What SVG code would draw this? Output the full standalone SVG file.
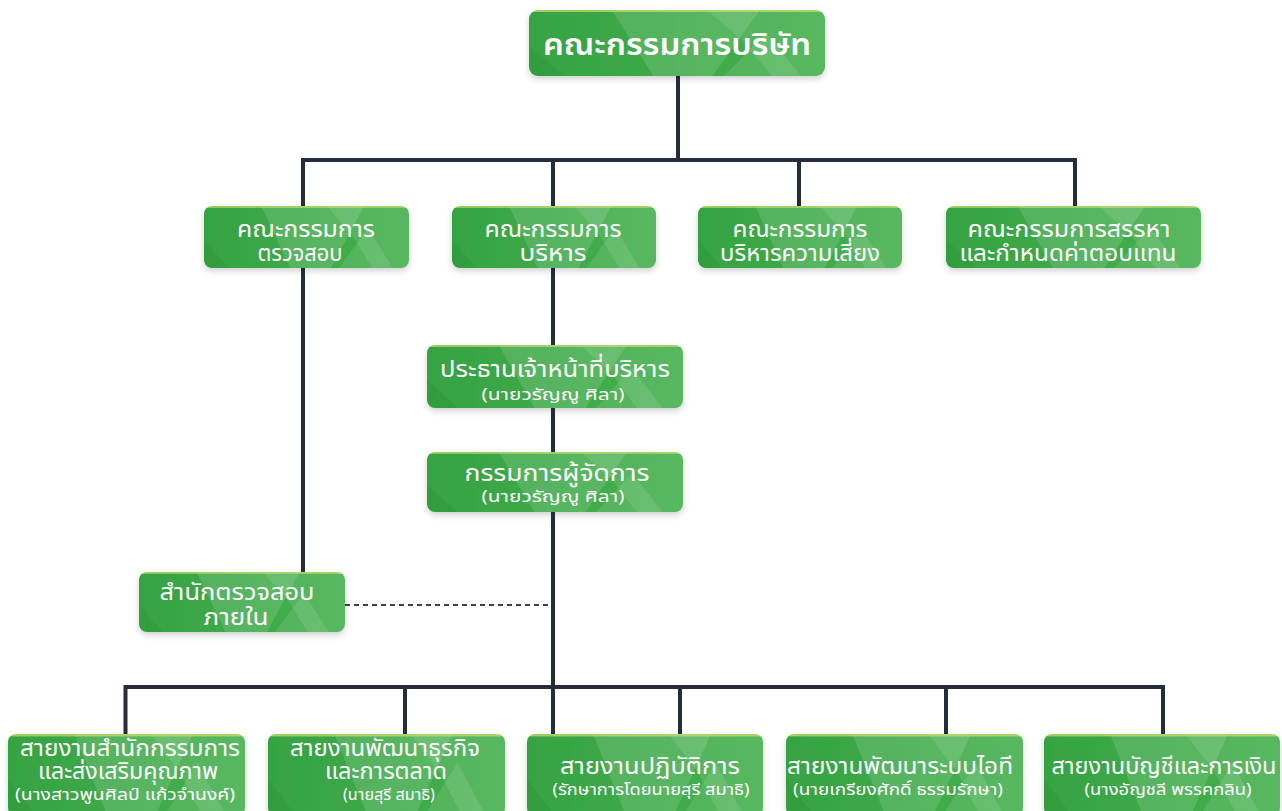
<svg xmlns="http://www.w3.org/2000/svg" width="1282" height="811" viewBox="0 0 1282 811">
<defs>
<linearGradient id="g" x1="0" y1="0" x2="1" y2="0">
<stop offset="0" stop-color="#36a343"/>
<stop offset="1" stop-color="#45b04e"/>
</linearGradient>
<pattern id="nodeFill" patternUnits="objectBoundingBox" patternContentUnits="objectBoundingBox" width="1" height="1">
<rect x="0" y="0" width="1" height="1" fill="url(#g)"/>
<polygon points="0.28,0 0.78,0 0.62,1 0.42,1" fill="#ffffff" fill-opacity="0.13"/>
<polygon points="0.6,0 1,0 1,1 0.82,1 0.72,0.45" fill="#ffffff" fill-opacity="0.1"/>
<polygon points="0.66,1 0.8,0.35 0.92,1" fill="#ffffff" fill-opacity="0.1"/>
<polygon points="0,0.55 0.12,1 0,1" fill="#1e8a30" fill-opacity="0.25"/>
<rect x="0" y="0" width="1" height="0.03" fill="#c9e36b" fill-opacity="0.7"/>
</pattern>
<filter id="sh" x="-10%" y="-20%" width="120%" height="150%">
<feDropShadow dx="0" dy="3" stdDeviation="3" flood-color="#000" flood-opacity="0.18"/>
</filter>
</defs>
<style>
.n{fill:url(#nodeFill);filter:url(#sh)}
.t{font-family:"Noto Sans Thai","Noto Sans","DejaVu Sans",sans-serif;fill:#fff;text-anchor:middle}
.big{font-size:31px;font-weight:600}
.m{font-size:23px}
.s{font-size:16px}
.ln{stroke:#262d3a;stroke-width:4;fill:none}
.dash{stroke:#3a4150;stroke-width:2;stroke-dasharray:5 4;fill:none}
</style>
<rect width="1282" height="811" fill="#ffffff"/>
<g id="connectors">
<path class="ln" d="M678,76 V160 M303,160 H1075 M303,158 V268 M553,158 V345 M799,158 V206 M1075,158 V206"/>
<path class="ln" d="M303,268 V572"/>
<path class="ln" d="M553,408 V452 M553,512 V734"/>
<path class="ln" d="M125.5,687 H1163 M125.5,685 V734 M405,687 V734 M680,687 V734 M946,687 V734 M1163,685 V734"/>
<path class="dash" d="M345,605 H551"/>
</g>
<g id="board"><rect class="n" x="529" y="10" width="296" height="66" rx="9"/><text class="t big" x="677" y="55" textLength="268" lengthAdjust="spacingAndGlyphs">คณะกรรมการบริษัท</text></g>
<g id="audit-committee"><rect class="n" x="204" y="206" width="205" height="62" rx="8"/><text class="t m" x="306" y="237" textLength="138" lengthAdjust="spacingAndGlyphs">คณะกรรมการ</text><text class="t m" x="300" y="261" textLength="85" lengthAdjust="spacingAndGlyphs">ตรวจสอบ</text></g>
<g id="executive-committee"><rect class="n" x="452" y="206" width="204" height="62" rx="8"/><text class="t m" x="553" y="237" textLength="137" lengthAdjust="spacingAndGlyphs">คณะกรรมการ</text><text class="t m" x="553" y="261" textLength="67" lengthAdjust="spacingAndGlyphs">บริหาร</text></g>
<g id="risk-committee"><rect class="n" x="698" y="206" width="204" height="62" rx="8"/><text class="t m" x="800" y="237" textLength="135" lengthAdjust="spacingAndGlyphs">คณะกรรมการ</text><text class="t m" x="800" y="261" textLength="160" lengthAdjust="spacingAndGlyphs">บริหารความเสี่ยง</text></g>
<g id="nomination-committee"><rect class="n" x="946" y="206" width="255" height="62" rx="8"/><text class="t m" x="1069" y="237" textLength="203" lengthAdjust="spacingAndGlyphs">คณะกรรมการสรรหา</text><text class="t m" x="1068" y="261" textLength="217" lengthAdjust="spacingAndGlyphs">และกำหนดค่าตอบแทน</text></g>
<g id="ceo"><rect class="n" x="427" y="345" width="256" height="63" rx="8"/><text class="t m" x="555" y="377" textLength="230" lengthAdjust="spacingAndGlyphs">ประธานเจ้าหน้าที่บริหาร</text><text class="t s" x="553" y="400" textLength="143" lengthAdjust="spacingAndGlyphs">(นายวรัญญู ศิลา)</text></g>
<g id="md"><rect class="n" x="427" y="452" width="256" height="60" rx="8"/><text class="t m" x="557" y="481" textLength="185" lengthAdjust="spacingAndGlyphs">กรรมการผู้จัดการ</text><text class="t s" x="553" y="502" textLength="143" lengthAdjust="spacingAndGlyphs">(นายวรัญญู ศิลา)</text></g>
<g id="internal-audit"><rect class="n" x="139" y="572" width="206" height="60" rx="8"/><text class="t m" x="237" y="600" textLength="155" lengthAdjust="spacingAndGlyphs">สำนักตรวจสอบ</text><text class="t m" x="236" y="625" textLength="65" lengthAdjust="spacingAndGlyphs">ภายใน</text></g>
<g id="div1"><rect class="n" x="8" y="734" width="237" height="82" rx="8"/><text class="t m" x="130" y="756" textLength="220" lengthAdjust="spacingAndGlyphs">สายงานสำนักกรรมการ</text><text class="t m" x="128" y="779" textLength="180" lengthAdjust="spacingAndGlyphs">และส่งเสริมคุณภาพ</text><text class="t s" x="125" y="800" textLength="220" lengthAdjust="spacingAndGlyphs">(นางสาวพูนศิลป์ แก้วจำนงค์)</text></g>
<g id="div2"><rect class="n" x="268" y="734" width="237" height="82" rx="8"/><text class="t m" x="385" y="756" textLength="190" lengthAdjust="spacingAndGlyphs">สายงานพัฒนาธุรกิจ</text><text class="t m" x="386" y="779" textLength="122" lengthAdjust="spacingAndGlyphs">และการตลาด</text><text class="t s" x="389" y="800" textLength="92" lengthAdjust="spacingAndGlyphs">(นายสุรี สมาธิ)</text></g>
<g id="div3"><rect class="n" x="527" y="734" width="236" height="82" rx="8"/><text class="t m" x="650" y="774" textLength="180" lengthAdjust="spacingAndGlyphs">สายงานปฏิบัติการ</text><text class="t s" x="651" y="795" textLength="197" lengthAdjust="spacingAndGlyphs">(รักษาการโดยนายสุรี สมาธิ)</text></g>
<g id="div4"><rect class="n" x="786" y="734" width="237" height="82" rx="8"/><text class="t m" x="900" y="774" textLength="226" lengthAdjust="spacingAndGlyphs">สายงานพัฒนาระบบไอที</text><text class="t s" x="898" y="795" textLength="210" lengthAdjust="spacingAndGlyphs">(นายเกรียงศักดิ์ ธรรมรักษา)</text></g>
<g id="div5"><rect class="n" x="1044" y="734" width="236" height="82" rx="8"/><text class="t m" x="1164" y="774" textLength="225" lengthAdjust="spacingAndGlyphs">สายงานบัญชีและการเงิน</text><text class="t s" x="1168" y="795" textLength="167" lengthAdjust="spacingAndGlyphs">(นางอัญชลี พรรคกลิน)</text></g>
</svg>
